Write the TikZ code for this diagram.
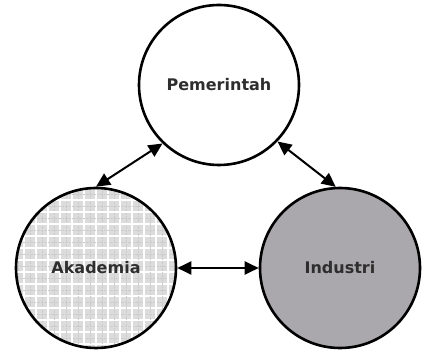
\documentclass[tikz,border=0pt]{standalone}
\usepackage{fontspec}
\newfontfamily\labelfont{DejaVu Sans}
\usetikzlibrary{arrows.meta}
\definecolor{txt}{HTML}{2E2E2E}
\definecolor{indfill}{HTML}{AAA8AC}
\definecolor{akafill}{HTML}{DCDCDC}
\tikzset{
  actor/.style={circle, draw=black, line width=2.6pt, minimum size=160pt, inner sep=0pt,
    font=\labelfont\bfseries\fontsize{16}{18}\selectfont, text=txt},
  link/.style={line width=2pt, {Triangle[length=14pt,width=13pt]}-{Triangle[length=14pt,width=13pt]}}
}
\begin{document}
\begin{tikzpicture}[x=1pt,y=1pt]
\useasboundingbox (0,0) rectangle (422,352);
% Akademia fill with grid pattern
\begin{scope}
  \clip (96,84) circle (80);
  \fill[akafill] (10,0) rectangle (185,170);
  \foreach \i in {0,...,15} {
    \draw[gray!40, line width=0.4pt, densely dotted] (18+\i*12,0) -- (18+\i*12,170);
    \draw[gray!40, line width=0.4pt, densely dotted] (10,14+\i*12) -- (185,14+\i*12);
    \draw[white, line width=1.5pt] (12+\i*12,0) -- (12+\i*12,170);
    \draw[white, line width=1.5pt] (10,8+\i*12) -- (185,8+\i*12);
  }
\end{scope}
\node[actor] (pem) at (219,267) {Pemerintah};
\node[actor] (aka) at (96,84) {Akademia};
\node[actor, fill=indfill] (ind) at (340,84) {Industri};
\draw[link] (aka.90) -- (pem.-134);
\draw[link] (pem.-44) -- (ind.93);
\draw[link] (aka.east) -- (ind.west);
\end{tikzpicture}
\end{document}
